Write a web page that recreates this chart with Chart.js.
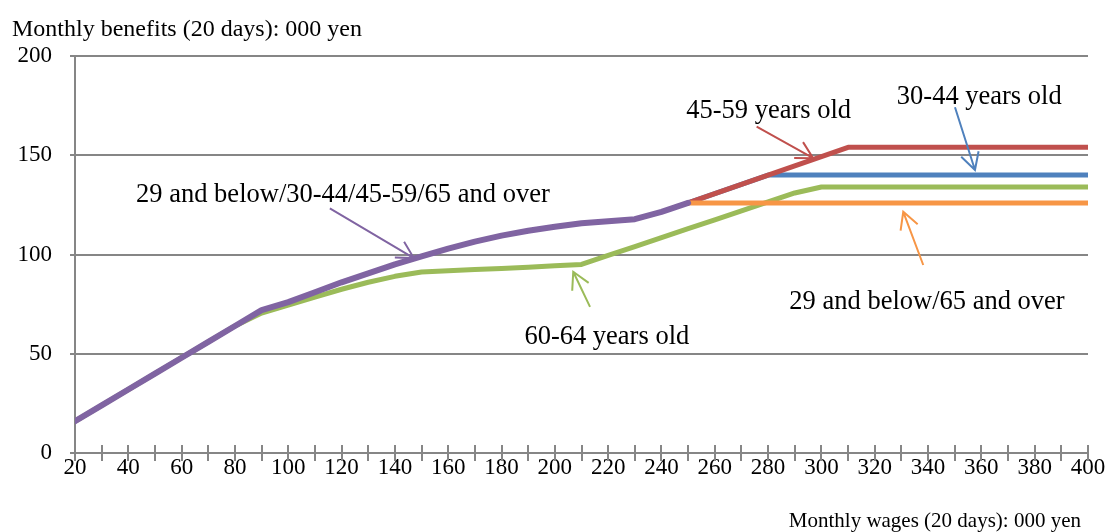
<!DOCTYPE html>
<html>
<head>
<meta charset="utf-8">
<script src="https://cdn.jsdelivr.net/npm/chart.js@4.4.1/dist/chart.umd.min.js"></script>
<style>
  html, body { margin: 0; padding: 0; background: #fff; }
  #wrap { width: 1109px; height: 532px; position: relative; }
</style>
</head>
<body>
<div id="wrap"><canvas id="chart"></canvas></div>
<script>
// monthly wages (20 days), 000 yen
const wages = [20, 30, 40, 50, 60, 70, 80, 90, 100, 110, 120, 130, 140, 150, 160, 170, 180, 190, 200,
    210, 220, 230, 240, 250, 260, 270, 280, 290, 300, 310, 320, 330, 340, 350, 360, 370, 380, 390, 400];

// monthly benefits (20 days), 000 yen
const allAges = [16, 24, 32, 40, 48, 56, 64, 72, 76, 81, 86, 90.5, 95, 99, 103, 106.5, 109.5, 112, 114,
    115.7, 116.8, 117.8, 121.5, 126, null, null, null, null, null, null, null, null, null, null, null, null, null, null, null];
const age6064 = [16, 24, 32, 40, 48, 56, 64, 70.5, 74.5, 78.5, 82.5, 86, 89, 91.2, 91.8, 92.4, 93, 93.6, 94.3,
    95, 99.5, 104, 108.5, 113, 117.5, 122, 126.5, 131, 134, 134, 134, 134, 134, 134, 134, 134, 134, 134, 134];
const age4559 = [null, null, null, null, null, null, null, null, null, null, null, null, null, null, null, null, null, null, null,
    null, null, null, null, 126, 130.7, 135.3, 140, 144.7, 149.3, 154, 154, 154, 154, 154, 154, 154, 154, 154, 154];
const age3044 = [null, null, null, null, null, null, null, null, null, null, null, null, null, null, null, null, null, null, null,
    null, null, null, null, 126, 130.7, 135.3, 140, 140, 140, 140, 140, 140, 140, 140, 140, 140, 140, 140, 140];
const age29and65 = [null, null, null, null, null, null, null, null, null, null, null, null, null, null, null, null, null, null, null,
    null, null, null, null, 126, 126, 126, 126, 126, 126, 126, 126, 126, 126, 126, 126, 126, 126, 126, 126];

const yTicks = [0, 50, 100, 150, 200];

const PURPLE = '#8064A2', GREEN = '#9BBB59', RED = '#C0504D', BLUE = '#4F81BD', ORANGE = '#F79646';
const FONT = '"Liberation Serif", "Times New Roman", serif';

// callouts: text centre and arrow (tail -> tip), all in data units
const notes = [
    { text: '29 and below/30-44/45-59/65 and over', color: PURPLE, at: [120.5, 130], from: [115.6, 123.2], to: [147.1, 98.2] },
    { text: '60-64 years old', color: GREEN, at: [219.5, 58.3], from: [213.2, 73.6], to: [206.9, 91.3] },
    { text: '45-59 years old', color: RED, at: [280.2, 172.3], from: [275.7, 164.4], to: [296.9, 148.5] },
    { text: '30-44 years old', color: BLUE, at: [359.2, 179.4], from: [350.1, 174.2], to: [357.6, 142.6] },
    { text: '29 and below/65 and over', color: ORANGE, at: [339.6, 76], from: [338.2, 94.7], to: [330.7, 121.5] }
];

function pts(vals) {
    return wages.map((w, i) => ({ x: w, y: vals[i] }));
}

function series(label, vals, color, width) {
    return {
        label: label,
        data: pts(vals),
        borderColor: color,
        backgroundColor: color,
        borderWidth: width,
        pointRadius: 0,
        tension: 0,
        fill: false,
        borderCapStyle: 'round',
        borderJoinStyle: 'round',
        spanGaps: false
    };
}

const extras = {
    id: 'extras',
    afterDatasetsDraw(chart) {
        const ctx = chart.ctx;
        const xs = chart.scales.x, ys = chart.scales.y;
        const area = chart.chartArea;

        // crossing tick marks on the x axis
        ctx.save();
        ctx.strokeStyle = '#868686';
        ctx.lineWidth = 2;
        xs.ticks.forEach(t => {
            const px = Math.round(xs.getPixelForValue(t.value));
            ctx.beginPath();
            ctx.moveTo(px, area.bottom - 8);
            ctx.lineTo(px, area.bottom + 8);
            ctx.stroke();
        });
        ctx.restore();

        // callouts
        notes.forEach(n => {
            const x1 = xs.getPixelForValue(n.from[0]), y1 = ys.getPixelForValue(n.from[1]);
            const x2 = xs.getPixelForValue(n.to[0]), y2 = ys.getPixelForValue(n.to[1]);
            ctx.save();
            ctx.strokeStyle = n.color;
            ctx.lineWidth = 2;
            ctx.beginPath();
            ctx.moveTo(x1, y1);
            ctx.lineTo(x2, y2);
            const ang = Math.atan2(y2 - y1, x2 - x1);
            const len = 19, spread = 0.5;
            ctx.moveTo(x2 - len * Math.cos(ang - spread), y2 - len * Math.sin(ang - spread));
            ctx.lineTo(x2, y2);
            ctx.lineTo(x2 - len * Math.cos(ang + spread), y2 - len * Math.sin(ang + spread));
            ctx.stroke();
            ctx.restore();

            ctx.save();
            ctx.fillStyle = '#000';
            ctx.font = '26.5px ' + FONT;
            ctx.textAlign = 'center';
            ctx.textBaseline = 'middle';
            ctx.fillText(n.text, xs.getPixelForValue(n.at[0]), ys.getPixelForValue(n.at[1]));
            ctx.restore();
        });

        // axis titles
        ctx.save();
        ctx.fillStyle = '#000';
        ctx.textBaseline = 'middle';
        ctx.font = '24px ' + FONT;
        ctx.textAlign = 'left';
        ctx.fillText('Monthly benefits (20 days): 000 yen', 12, 30);
        ctx.font = '21px ' + FONT;
        ctx.textAlign = 'right';
        ctx.fillText('Monthly wages (20 days): 000 yen', 1081, 521);
        ctx.restore();
    }
};

new Chart('chart', {
    type: 'line',
    data: {
        datasets: [
            series('29 and below/30-44/45-59/65 and over', allAges, PURPLE, 6),
            series('29 and below/65 and over', age29and65, ORANGE, 5),
            series('45-59 years old', age4559, RED, 5),
            series('30-44 years old', age3044, BLUE, 5),
            series('60-64 years old', age6064, GREEN, 5)
        ]
    },
    options: {
        responsive: true,
        maintainAspectRatio: false,
        animation: false,
        layout: { padding: { top: 56, right: 21, left: 0, bottom: 0 } },
        plugins: {
            legend: { display: false },
            tooltip: { enabled: false }
        },
        scales: {
            x: {
                type: 'linear',
                min: 20,
                max: 400,
                afterFit: s => { s.height = 79; },
                grid: { display: false, drawTicks: false },
                border: { display: true, color: '#868686', width: 2 },
                ticks: {
                    stepSize: 10,
                    autoSkip: false,
                    maxRotation: 0,
                    padding: 1,
                    color: '#000',
                    font: { family: FONT, size: 23 },
                    callback: v => (v % 20 === 0 ? String(v) : '')
                }
            },
            y: {
                min: 0,
                max: 200,
                afterFit: s => { s.width = 75; },
                afterBuildTicks: s => { s.ticks = yTicks.map(v => ({ value: v })); },
                grid: { color: '#868686', lineWidth: 2, tickLength: 5 },
                border: { display: true, color: '#868686', width: 2 },
                ticks: {
                    padding: 18,
                    color: '#000',
                    font: { family: FONT, size: 23 }
                }
            }
        }
    },
    plugins: [extras]
});
</script>
</body>
</html>
